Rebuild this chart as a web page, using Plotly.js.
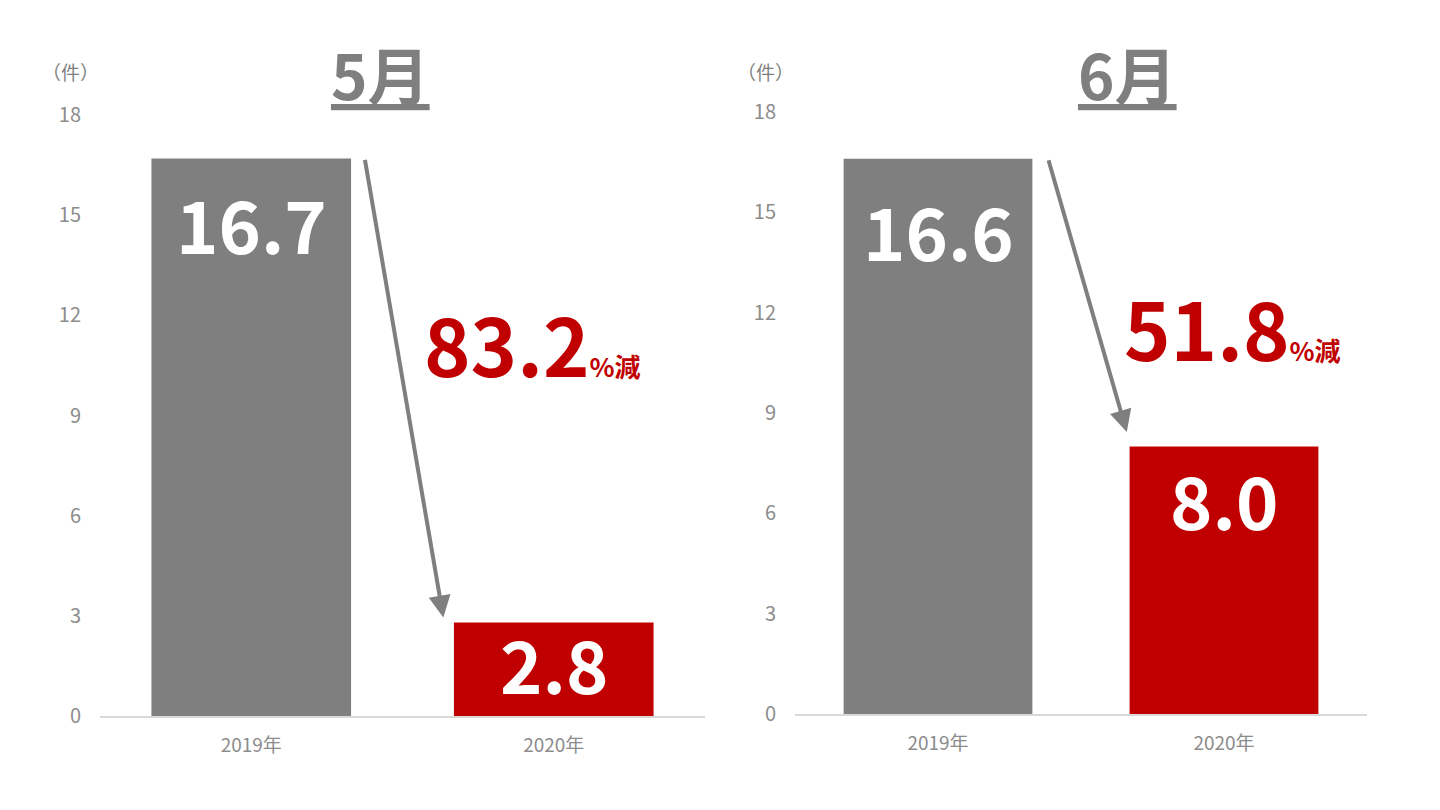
<!DOCTYPE html>
<html>
<head>
<meta charset="utf-8">
<script src="https://cdn.plot.ly/plotly-3.0.1.min.js"></script>
<style>
  html, body { margin: 0; padding: 0; background: #fff; }
  #chart { width: 1440px; height: 810px; }
</style>
</head>
<body>
<div id="chart"></div>
<script>
// values
const categories = ['2019年', '2020年'];
const mayValues = [16.7, 2.8];
const juneValues = [16.6, 8.0];
const monthTitles = ['5月', '6月'];
const dropPct = ['83.2', '51.8'];
const yTicks = [0, 3, 6, 9, 12, 15, 18];
const unitLabel = '（件）';

const FONT = '"Noto Sans CJK JP", "Noto Sans", sans-serif';
const GRAY = '#7f7f7f';
const RED = '#c00000';
const barColors = [GRAY, RED];

// one panel per month
const panels = [
  { values: mayValues, title: monthTitles[0], pct: dropPct[0], xa: 'x', ya: 'y',
    xdom: [100 / 1440, 705 / 1440], ydom: [94 / 810, 695 / 810],
    titleX: 380, unitX: 70, labelShift: [64, 40],
    arrowFrom: 0.375, arrowTo: 0.635, arrowGap: 0.15, pctX: 0.93, pctY: 11.2 },
  { values: juneValues, title: monthTitles[1], pct: dropPct[1], xa: 'x2', ya: 'y2',
    xdom: [795 / 1440, 1367 / 1440], ydom: [96 / 810, 698 / 810],
    titleX: 1127, unitX: 765, labelShift: [71, 52],
    arrowFrom: 0.385, arrowTo: 0.66, arrowGap: 0.43, pctX: 1.03, pctY: 11.6 }
];

let traces = [];
let annotations = [];
let layout = {
  width: 1440, height: 810,
  margin: { l: 0, r: 0, t: 0, b: 0 },
  paper_bgcolor: '#fff', plot_bgcolor: '#fff',
  showlegend: false,
  font: { family: FONT, color: GRAY },
  bargap: 0.34
};

panels.forEach((p, k) => {
  const sfx = k === 0 ? '' : '2';
  traces.push({
    type: 'bar',
    x: categories,
    y: p.values,
    xaxis: p.xa,
    yaxis: p.ya,
    marker: { color: barColors },
    hoverinfo: 'none'
  });

  layout['xaxis' + sfx] = {
    domain: p.xdom, anchor: p.ya, type: 'category',
    showline: true, linecolor: '#d9d9d9', linewidth: 1.5,
    showgrid: false, zeroline: false, ticks: '',
    ticklabelstandoff: 12,
    tickfont: { family: FONT, size: 19, color: '#8c8c8c' },
    fixedrange: true
  };
  layout['yaxis' + sfx] = {
    domain: p.ydom, anchor: p.xa, range: [0, 18],
    tickvals: yTicks, ticktext: yTicks.map(String),
    showline: false, showgrid: false, zeroline: false, ticks: '',
    ticklabelstandoff: 18,
    tickfont: { family: FONT, size: 20, color: '#8c8c8c' },
    fixedrange: true
  };

  // value labels inside bars
  p.values.forEach((v, i) => {
    annotations.push({
      xref: p.xa, yref: p.ya, x: categories[i], y: v,
      yanchor: 'middle', yshift: -p.labelShift[i],
      text: v.toFixed(1), showarrow: false,
      font: { family: FONT, size: 72, weight: 'bold', color: '#ffffff' }
    });
  });

  // arrow from 2019 bar to 2020 bar
  annotations.push({
    xref: p.xa, yref: p.ya, axref: p.xa, ayref: p.ya,
    x: p.arrowTo, y: p.values[1] + p.arrowGap,
    ax: p.arrowFrom, ay: p.values[0],
    text: '', showarrow: true,
    arrowhead: 2, arrowsize: 1.1, arrowwidth: 4, arrowcolor: GRAY, standoff: 0
  });

  // percent decrease
  annotations.push({
    xref: p.xa, yref: p.ya, x: p.pctX, y: p.pctY,
    xanchor: 'center', yanchor: 'middle', showarrow: false,
    text: '<span style="font-size:79px">' + p.pct + '</span><span style="font-size:26px">%減</span>',
    font: { family: FONT, size: 79, weight: 'bold', color: RED }
  });

  // month title
  annotations.push({
    xref: 'paper', yref: 'paper', x: p.titleX / 1440, y: 1 - 73 / 810,
    xanchor: 'center', yanchor: 'middle', showarrow: false,
    text: p.title,
    font: { family: FONT, size: 62, weight: 'bold', color: GRAY, lineposition: 'under' }
  });

  // unit
  annotations.push({
    xref: 'paper', yref: 'paper', x: p.unitX / 1440, y: 1 - 71 / 810,
    xanchor: 'center', yanchor: 'middle', showarrow: false,
    text: unitLabel,
    font: { family: FONT, size: 19, color: GRAY }
  });
});

layout.annotations = annotations;

Plotly.newPlot('chart', traces, layout, { displayModeBar: false, staticPlot: true });
</script>
</body>
</html>
